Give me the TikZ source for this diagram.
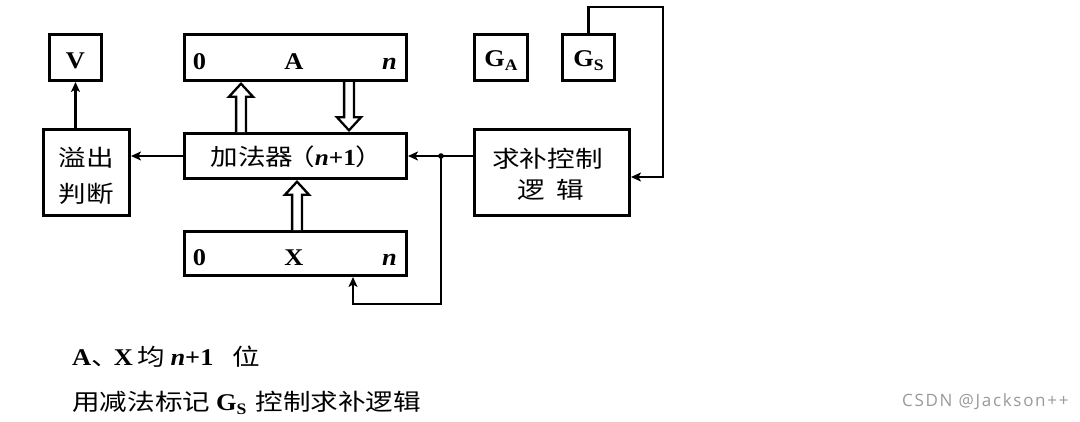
\documentclass[tikz,border=0pt]{standalone}
\usepackage{fontspec}
\setmainfont[FakeStretch=1.1]{Liberation Serif}
\newfontfamily\cjk[FakeStretch=1.2]{Noto Sans CJK SC}
\newfontfamily\wmfont[LetterSpace=10]{Open Sans}
\usetikzlibrary{arrows.meta,calc}
\newcommand\dblarrow[3]{%
  \draw[dbl] ($(#1)+(-4.9,0)$) -- ($(#2)+(-4.9,#3)$) -- ($(#2)+(-12,#3)$) -- (#2)
    -- ($(#2)+(12,#3)$) -- ($(#2)+(4.9,#3)$) -- ($(#1)+(4.9,0)$);}
\newcommand\cjt[1]{{\cjk\mdseries\upshape\fontsize{23}{23}\selectfont #1}}
\newcommand\bsub[1]{\raisebox{-4pt}{\fontsize{16}{16}\selectfont #1}}
\tikzset{
  box/.style={draw, line width=2.9pt, inner sep=0pt, fill=white},
  conn/.style={line width=2.4pt, -{Stealth[length=10pt,width=9pt,inset=2.5pt]}},
  dbl/.style={line width=2.3pt, fill=white, line join=miter},
  lat/.style={font=\fontsize{24}{24}\selectfont\bfseries, inner sep=0pt, anchor=base},
  cj/.style={font=\fontsize{23}{23}\selectfont\cjk, inner sep=0pt, anchor=base},
  txt/.style={font=\fontsize{24}{24}\selectfont\bfseries, inner sep=0pt, anchor=base west},
}
\begin{document}
\begin{tikzpicture}[x=1pt,y=-1pt]
\useasboundingbox (0,0) rectangle (1080,421);
% boxes
\node[box, minimum width=52.1pt, minimum height=46.1pt] (V) at (75.5,57.5) {};
\node[box, minimum width=222.1pt, minimum height=46.1pt] (A) at (295.5,57.5) {};
\node[box, minimum width=222.1pt, minimum height=45.1pt] (add) at (295.5,156) {};
\node[box, minimum width=86.1pt, minimum height=86.1pt] (ovf) at (86.5,172.5) {};
\node[box, minimum width=222.1pt, minimum height=44.1pt] (X) at (295.5,253.5) {};
\node[box, minimum width=53.1pt, minimum height=46.1pt] (GA) at (501,57.5) {};
\node[box, minimum width=52.1pt, minimum height=46.1pt] (GS) at (588.5,57.5) {};
\node[box, minimum width=155.1pt, minimum height=86.1pt] (qb) at (552,172.5) {};
% texts in boxes
\node[lat] (vt) at (75.5,68) {V};
\node[lat] (a0) at (199.5,69) {0};
\node[lat] (aA) at (294,69) {A};
\node[lat] (an) at (389.5,69) {\itshape n};
\node[lat] (x0) at (199.5,265) {0};
\node[lat] (xX) at (294,265) {X};
\node[lat] (xn) at (389.5,265) {\itshape n};
\node[lat] (gat) at (501,66) {G\bsub{A}};
\node[lat] (gst) at (588.5,66) {G\bsub{S}};
\node[cj] (addt) at (297,165) {加法器\hspace{-6pt}（{\rmfamily\bfseries\itshape n}{\rmfamily\bfseries +1}）};
\node[cj] (ov1) at (86.5,166) {溢出};
\node[cj] (ov2) at (86.5,202) {判断};
\node[cj] (qb1) at (547.5,167) {求补控制};
\node[cj] (qb2) at (551,198) {逻\hspace{12pt}辑};
% connectors
\draw[conn] (V.south |- ovf.north) -- (V.south);
\draw[conn] (add.west) -- (add.west -| ovf.east);
\coordinate (j) at ($(add.east)+(33,0)$);
\draw[conn] (qb.west |- add.east) -- (add.east);
\fill (j) circle (2.8pt);
\coordinate (xin) at ($(X.south)+(57.5,0)$);
\draw[conn] (j) |- ($(xin)+(0,27)$) -- (xin);
\coordinate (c1) at (663,7);
\draw[conn] (GS.north) |- (c1) |- ($(qb.east)+(0,4.5)$);
% double arrows
\dblarrow{$(add.north)+(-54.5,0)$}{$(A.south)+(-54.5,1.7)$}{13}
\dblarrow{$(A.south)+(53.5,0)$}{$(add.north)+(53.5,-1.7)$}{-13}
\dblarrow{$(X.north)+(1.5,0)$}{$(add.south)+(1.5,1.7)$}{13}
% bottom notes
\node[txt] (n1) at (72,365) {A\cjt{、}\hspace{-5pt}X\hspace{5pt}\cjt{均}\hspace{5pt}{\itshape n}+1\hspace{19pt}\cjt{位}};
\node[txt] (n2) at (72,410) {\cjt{用减法标记}\hspace{6pt}G\bsub{S}\hspace{9pt}\cjt{控制求补逻辑}};
\node[font=\wmfont\fontsize{17}{17}\selectfont, text=black!40, inner sep=0pt, anchor=base west] (wm) at (902,406) {CSDN @Jackson++};
\end{tikzpicture}
\end{document}
